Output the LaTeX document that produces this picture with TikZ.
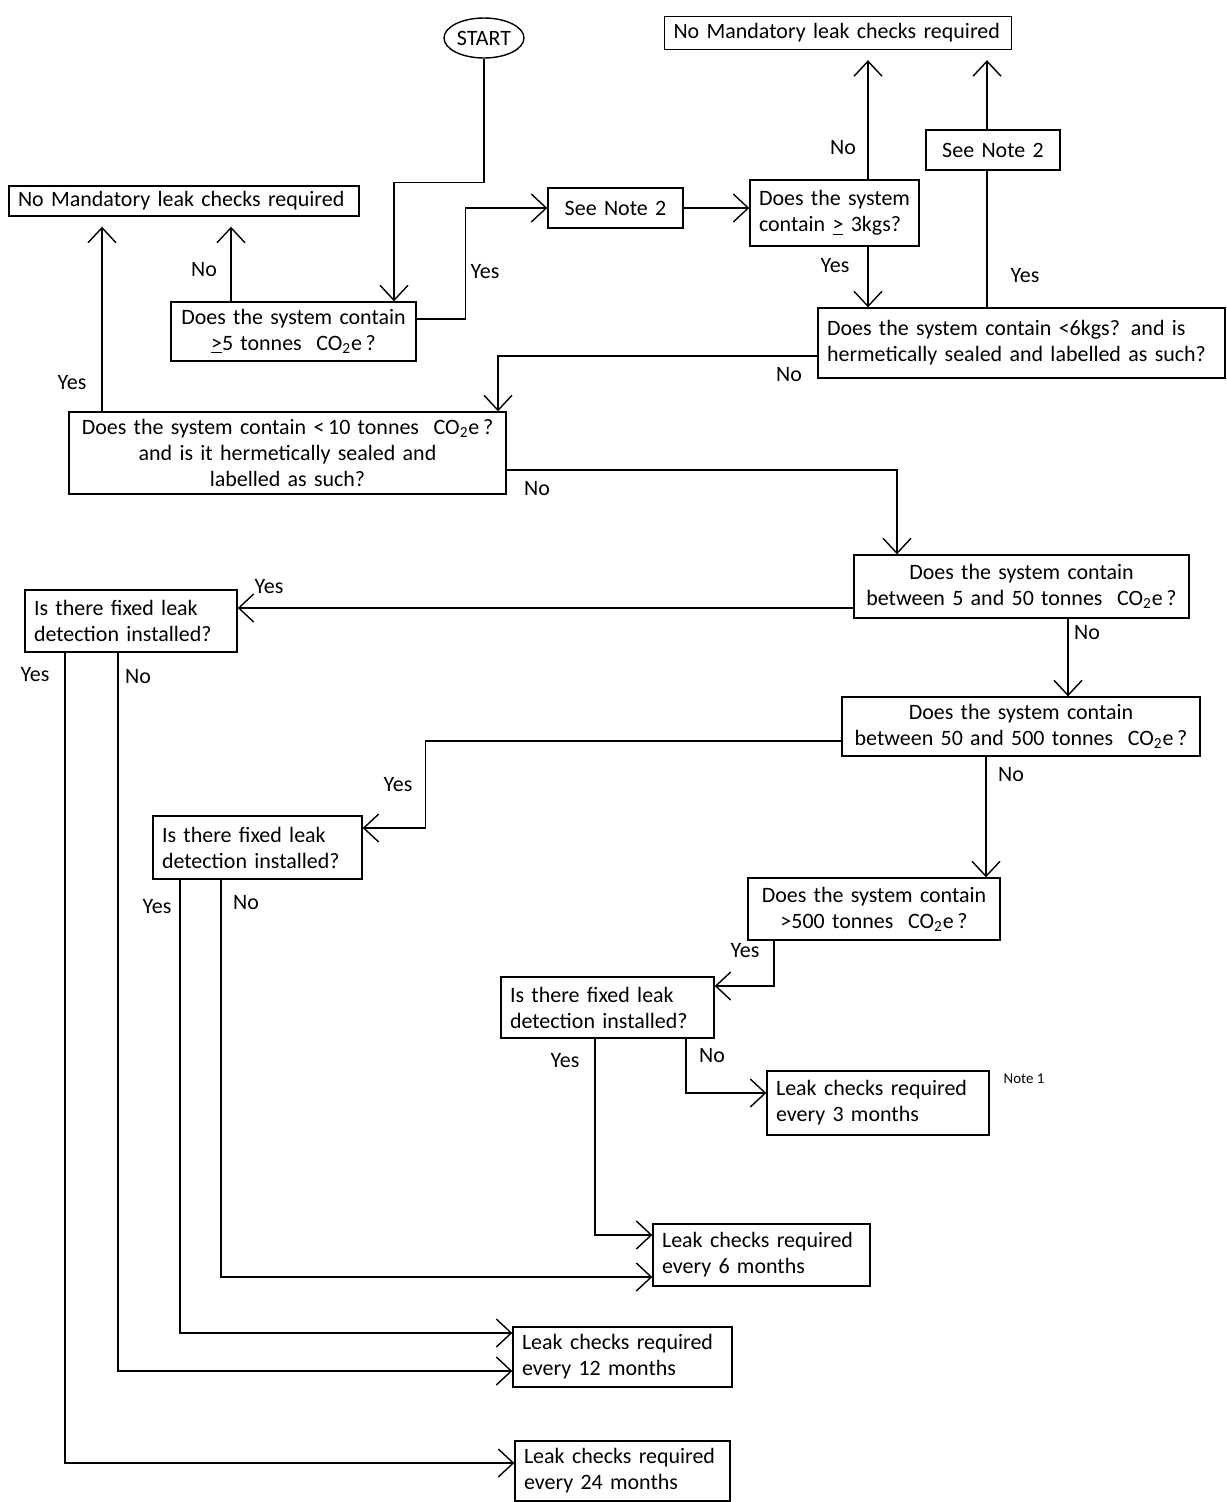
\documentclass[tikz,border=0pt]{standalone}
\usepackage{fontspec}
\setmainfont{Carlito}
\usetikzlibrary{arrows.meta,shapes.geometric}

\begin{document}
\begin{tikzpicture}[x = 0.02cm, y = -0.02cm]
        \tikzset{box/.style = {shape=rectangle, draw, thick, inner xsep=0.18cm, inner ysep=0pt, font=\fontsize{12.5}{14.8}\selectfont}}
        \tikzset{lbl/.style = {inner sep=0pt, font=\fontsize{12.5}{14.8}\selectfont}}
        \tikzset{edge/.style = {-{Straight Barb[length=0.3cm, width=0.56cm]}, thick}}
        \useasboundingbox (0,0) rectangle (1227,1502);
        % boxes
        \node[draw, thick, ellipse, minimum width=1.6cm, minimum height=0.8cm, inner sep=0pt, font=\fontsize{12.5}{14.8}\selectfont] (start) at (484,38) {START};
        \node[box, align=left, text width=6.64cm, minimum height=0.6cm] (noA) at (184,201) {No Mandatory leak checks required};
        \node[box, align=left, text width=6.58cm, minimum height=0.66cm] (noB) at (838,33) {No Mandatory leak checks required};
        \node[box, align=center, text width=4.54cm, minimum height=1.18cm] (qFive) at (293.5,331.5) {Does the system contain\\\underline{>}5 tonnes\ \ CO\textsubscript{2}e\,?};
        \node[box, align=center, text width=2.34cm, minimum height=0.8cm] (noteA) at (615.5,208) {See Note 2};
        \node[box, align=left, text width=3.02cm, minimum height=1.32cm] (qThree) at (834.5,213) {Does the system\\contain \underline{>} 3kgs?};
        \node[box, align=center, text width=2.32cm, minimum height=0.8cm] (noteB) at (993,150) {See Note 2};
        \node[box, align=left, text width=7.78cm, minimum height=1.4cm] (qSix) at (1021.5,343) {Does the system contain <6kgs? and is\\hermetically sealed and labelled as such?};
        \node[box, align=center, text width=8.38cm, minimum height=1.64cm] (qTen) at (287.5,453) {Does the system contain <\,10 tonnes\ \ CO\textsubscript{2}e\,?\\and is it\ hermetically sealed and\\labelled as such?};
        \node[box, align=center, text width=6.34cm, minimum height=1.26cm] (qFifty) at (1021.5,586.5) {Does the system contain\\between 5 and 50 tonnes\ \ CO\textsubscript{2}e\,?};
        \node[box, align=left, text width=3.88cm, minimum height=1.24cm] (leakA) at (131,621) {Is there fixed leak\\detection installed?};
        \node[box, align=center, text width=6.80cm, minimum height=1.18cm] (qHundreds) at (1021,726.5) {Does the system contain\\between 50 and 500 tonnes\ \ CO\textsubscript{2}e\,?};
        \node[box, align=left, text width=3.82cm, minimum height=1.26cm] (leakB) at (257.5,847.5) {Is there fixed leak\\detection installed?};
        \node[box, align=center, text width=4.68cm, minimum height=1.24cm] (qBig) at (874,909) {Does the system contain\\>500\ tonnes\ \ CO\textsubscript{2}e\,?};
        \node[box, align=left, text width=3.90cm, minimum height=1.22cm] (leakC) at (607.5,1007.5) {Is there fixed leak\\detection installed?};
        \node[box, align=left, text width=4.08cm, minimum height=1.28cm] (mThree) at (878,1103) {Leak checks required\\every 3 months};
        \node[box, align=left, text width=3.98cm, minimum height=1.24cm] (mSix) at (761.5,1255) {Leak checks required\\every 6 months};
        \node[box, align=left, text width=4.02cm, minimum height=1.2cm] (mTwelve) at (622.5,1357) {Leak checks required\\every 12 months};
        \node[box, align=left, text width=3.94cm, minimum height=1.2cm] (mTwentyFour) at (622.5,1471) {Leak checks required\\every 24 months};
        \node[inner sep=0pt, font=\fontsize{8.5}{10}\selectfont] (noteOne) at (1024,1079) {Note 1};
        % labels
        \node[lbl] (lNoFive) at (204,270) {No};
        \node[lbl] (lYesFive) at (485,272) {Yes};
        \node[lbl] (lNoThree) at (843,148) {No};
        \node[lbl] (lYesThree) at (835,266) {Yes};
        \node[lbl] (lYesSix) at (1025,276) {Yes};
        \node[lbl] (lNoSix) at (789,375) {No};
        \node[lbl] (lYesTen) at (72,383) {Yes};
        \node[lbl] (lNoTen) at (537,489) {No};
        \node[lbl] (lYesFifty) at (269,587) {Yes};
        \node[lbl] (lNoFifty) at (1087,633) {No};
        \node[lbl] (lYesHundreds) at (398,785) {Yes};
        \node[lbl] (lNoHundreds) at (1011,775) {No};
        \node[lbl] (lYesBig) at (745,951) {Yes};
        \node[lbl] (lNoC) at (712,1056) {No};
        \node[lbl] (lYesC) at (565,1061) {Yes};
        \node[lbl] (lYesA) at (35,675) {Yes};
        \node[lbl] (lNoA) at (138,677) {No};
        \node[lbl] (lYesB) at (157,907) {Yes};
        \node[lbl] (lNoB) at (246,903) {No};
        %edges
        \draw[edge] (start.south) -- ++(0,124) -| (qFive.north -| 394,0);
        \draw[edge, shorten >=0.2cm] (qFive.north -| 231,0) -- (noA.south -| 231,0);
        \draw[edge] (qFive.east |- 0,319) -- ++(49,0) |- (noteA.west);
        \draw[edge] (noteA.east) -- (noteA.east -| qThree.west);
        \draw[edge, shorten >=0.2cm] (qThree.north -| 868,0) -- (noB.south -| 868,0);
        \draw[edge] (qThree.south -| 868,0) -- (qSix.north -| 868,0);
        \draw[thick] (qSix.north -| 987,0) -- (noteB.south -| 987,0);
        \draw[edge, shorten >=0.2cm] (noteB.north -| 987,0) -- (noB.south -| 987,0);
        \draw[edge] (qSix.west |- 0,356) -| (qTen.north -| 498,0);
        \draw[edge, shorten >=0.2cm] (qTen.north -| 102,0) -- (noA.south -| 102,0);
        \draw[edge] (qTen.east |- 0,470) -| (qFifty.north -| 897,0);
        \draw[edge] (qFifty.west |- 0,608) -- (leakA.east |- 0,608);
        \draw[edge] (qFifty.south -| 1068,0) -- (qHundreds.north -| 1068,0);
        \draw[edge] (qHundreds.west |- 0,741) -- ++(-416,0) |- (leakB.east |- 0,828);
        \draw[edge] (qHundreds.south -| 986,0) -- (qBig.north -| 986,0);
        \draw[edge] (qBig.south -| 774,0) |- (leakC.east |- 0,986);
        \draw[edge] (leakC.south -| 686,0) |- (mThree.west |- 0,1093);
        \draw[edge] (leakC.south -| 595,0) |- (mSix.west |- 0,1235);
        \draw[edge] (leakB.south -| 221,0) |- (mSix.west |- 0,1277);
        \draw[edge] (leakB.south -| 180,0) |- (mTwelve.west |- 0,1333);
        \draw[edge] (leakA.south -| 118,0) |- (mTwelve.west |- 0,1371);
        \draw[edge] (leakA.south -| 65,0) |- (mTwentyFour.west |- 0,1463);
\end{tikzpicture}
\end{document}
